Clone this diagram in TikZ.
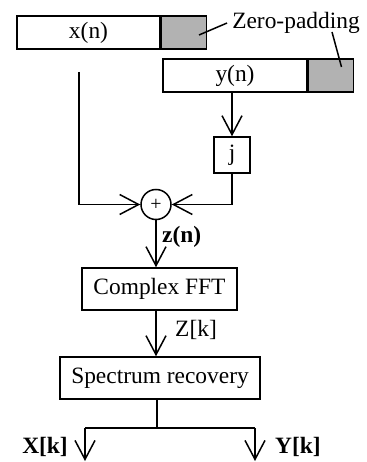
\documentclass[tikz,border=0pt]{standalone}
\usepackage{fontspec}
\setmainfont{Liberation Serif}
\usetikzlibrary{arrows.meta,positioning,calc}
\tikzset{
  blk/.style={draw, rectangle, inner sep=0pt, line width=1.5bp, align=center},
  pad/.style={blk, fill=gray!60},
  wire/.style={line width=1.5bp},
  sig/.style={wire, -{Straight Barb[length=19bp,width=20bp]}},
  lbl/.style={inner sep=0pt},
}

\begin{document}
\begin{tikzpicture}[x=1bp, y=-1bp, font=\fontsize{23.5}{28}\selectfont]
    \useasboundingbox (0,0) rectangle (366,462);
    % input sequences with zero-padding
    \node[blk, minimum width=143bp, minimum height=33bp] (xn) at (88.5,32.5) {x(n)};
    \node[pad, minimum width=45bp, minimum height=33bp, right=0pt of xn] (xpad) {};
    \node[blk, minimum width=144bp, minimum height=33bp] (yn) at (235,75.5) {y(n)};
    \node[pad, minimum width=45bp, minimum height=33bp, right=0pt of yn] (ypad) {};
    \node[lbl] (zp) at (296,23) {Zero-padding};
    \draw[wire] ([shift={(15,2.5)}]xpad.center) -- ([xshift=-5bp]zp.west);
    \draw[wire] ([shift={(10.5,-8.5)}]ypad.center) -- ([shift={(36,9)}]zp.center);

    % combine
    \node[blk, minimum size=36bp] (j) at (232,155) {j};
    \node[draw, circle, line width=1.5bp, minimum size=30bp, inner sep=0pt,
          font=\fontsize{20}{20}\selectfont] (sum) at (156,204.5) {+};
    \coordinate (xstart) at (79,72);
    \draw[sig] (j |- yn.south) -- (j.north);
    \draw[sig] (xstart) |- (sum.west);
    \draw[sig] (j.south) |- (sum.east);

    % transform and recovery
    \node[blk, minimum width=155bp, minimum height=42bp] (fft) at (159.5,289) {Complex FFT};
    \node[blk, minimum width=200bp, minimum height=42bp] (spec) at (160,378) {Spectrum recovery};
    \draw[sig] (sum.south) -- (sum.south |- fft.north);
    \node[lbl, anchor=west] (zn) at (162,237) {\bfseries z(n)};
    \draw[sig] (fft.south -| sum) -- (spec.north -| sum);
    \node[lbl, anchor=west] (zk) at (175,330) {Z[k]};

    % outputs
    \coordinate (split) at (157,428);
    \coordinate (xout) at (85,461);
    \coordinate (yout) at (255,461);
    \draw[wire] (spec.south -| split) -- (split);
    \draw[wire] (xout |- split) -- (yout |- split);
    \draw[sig] (xout |- split) -- (xout);
    \draw[sig] (yout |- split) -- (yout);
    \node[lbl, anchor=east] (xk) at (68,447) {\bfseries X[k]};
    \node[lbl, anchor=west] (yk) at (275,447) {\bfseries Y[k]};
\end{tikzpicture}
\end{document}
